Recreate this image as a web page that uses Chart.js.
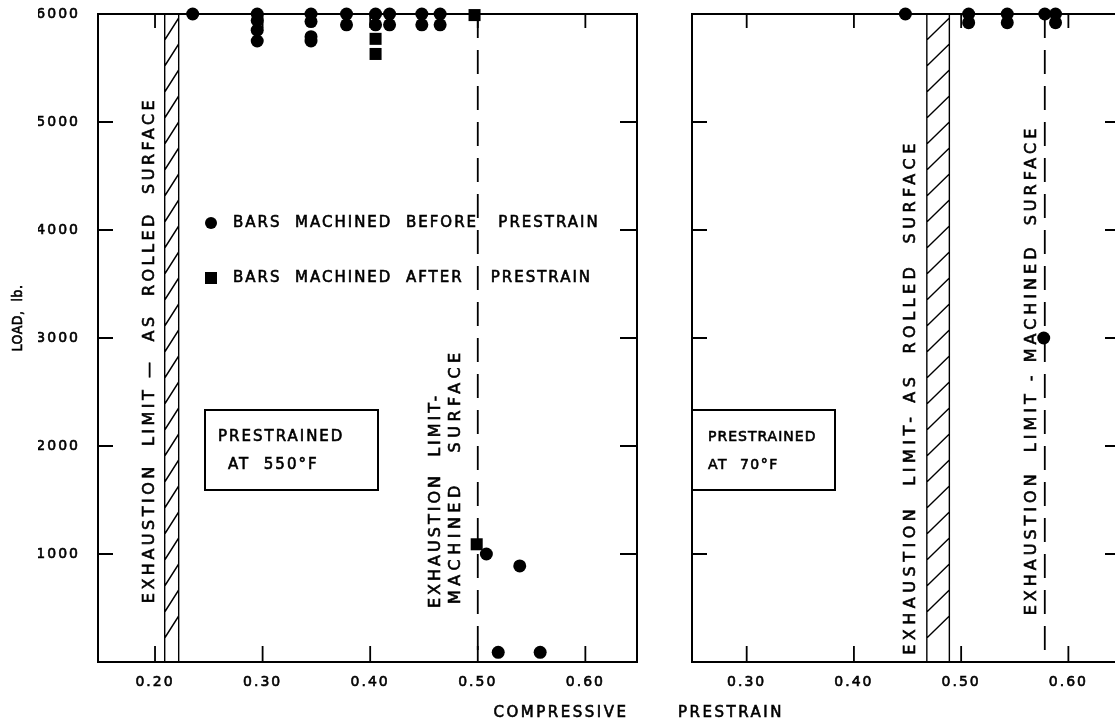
<!DOCTYPE html>
<html>
<head>
<meta charset="utf-8">
<script src="https://cdn.jsdelivr.net/npm/chart.js@4.4.1/dist/chart.umd.min.js"></script>
<style>
  html, body { margin: 0; padding: 0; background: #fff; overflow: hidden; width: 1115px; height: 725px; }
  canvas { position: absolute; left: 0; top: 0; }
</style>
</head>
<body>
<canvas id="hot" width="1115" height="725"></canvas>
<canvas id="cold" width="1140" height="725"></canvas>
<script>
const FONT = '"DejaVu Sans", sans-serif';

// prestrained at 550F, bars machined before prestrain
const hotBeforeX = [0.235, 0.295, 0.295, 0.295, 0.295, 0.345, 0.345, 0.345, 0.345, 0.378, 0.378,
  0.405, 0.405, 0.418, 0.418, 0.448, 0.448, 0.465, 0.465, 0.508, 0.539, 0.519, 0.558];
const hotBeforeY = [6000, 6000, 5940, 5850, 5750, 6000, 5930, 5790, 5750, 6000, 5900,
  6000, 5900, 6000, 5900, 6000, 5900, 6000, 5900, 1000, 890, 90, 90];
// prestrained at 550F, bars machined after prestrain
const hotAfterX = [0.405, 0.405, 0.497, 0.499];
const hotAfterY = [5770, 5630, 5990, 1090];
// prestrained at 70F
const coldX = [0.448, 0.507, 0.507, 0.543, 0.543, 0.578, 0.588, 0.588, 0.577];
const coldY = [6000, 6000, 5920, 6000, 5920, 6000, 6000, 5920, 3000];

const hotTicksX = [0.2, 0.3, 0.4, 0.5, 0.6];
const coldTicksX = [0.3, 0.4, 0.5, 0.6];
const loadTicks = [1000, 2000, 3000, 4000, 5000, 6000];

// exhaustion limits (compressive prestrain)
const hotRolledLimit = [0.209, 0.222];
const hotMachinedLimit = 0.50;
const coldRolledLimit = [0.468, 0.489];
const coldMachinedLimit = 0.578;

const toPoints = (xs, ys) => xs.map((x, i) => ({ x, y: ys[i] }));

function text(ctx, s, x, y, o) {
  ctx.save();
  ctx.translate(x, y);
  if (o.rot) ctx.rotate(-Math.PI / 2);
  ctx.font = (o.size || 15) + 'px ' + (o.family || FONT);
  ctx.letterSpacing = (o.sp == null ? 2.5 : o.sp) + 'px';
  ctx.textAlign = o.align || 'left';
  ctx.textBaseline = 'middle';
  ctx.fillStyle = '#000';
  ctx.strokeStyle = '#000';
  ctx.lineWidth = 0.6;
  ctx.fillText(s, 0, 0);
  ctx.strokeText(s, 0, 0);
  ctx.restore();
}

const panelPlugin = {
  id: 'panel',
  beforeDraw(chart) {
    chart.ctx.letterSpacing = '2px';
  },
  beforeDatasetsDraw(chart, args, opts) {
    const { ctx, chartArea: a, scales: { x, y } } = chart;
    ctx.save();
    ctx.strokeStyle = '#000';
    ctx.lineWidth = 2;
    ctx.strokeRect(a.left, a.top, a.right - a.left, a.bottom - a.top);

    // inward tick marks on all four sides
    ctx.lineWidth = 1.8;
    ctx.beginPath();
    opts.xTicks.forEach(v => {
      const px = x.getPixelForValue(v);
      ctx.moveTo(px, a.bottom); ctx.lineTo(px, a.bottom - 16);
      ctx.moveTo(px, a.top); ctx.lineTo(px, a.top + 14);
    });
    loadTicks.slice(0, -1).forEach(v => {
      const py = y.getPixelForValue(v);
      ctx.moveTo(a.left, py); ctx.lineTo(a.left + 15, py);
      ctx.moveTo(a.right, py); ctx.lineTo(a.right - 17, py);
    });
    ctx.stroke();

    // as-rolled limit: hatched band
    const x0 = x.getPixelForValue(opts.rolled[0]);
    const x1 = x.getPixelForValue(opts.rolled[1]);
    ctx.lineWidth = 1.4;
    ctx.beginPath();
    ctx.moveTo(x0, a.top); ctx.lineTo(x0, a.bottom);
    ctx.moveTo(x1, a.top); ctx.lineTo(x1, a.bottom);
    for (let yy = a.top + 4; yy + 22 < a.bottom; yy += 26) {
      ctx.moveTo(x0, yy + 22); ctx.lineTo(x1, yy);
    }
    ctx.stroke();

    // machined limit: dashed line
    const xd = x.getPixelForValue(opts.machined);
    ctx.lineWidth = 1.8;
    ctx.setLineDash([24, 12]);
    ctx.beginPath(); ctx.moveTo(xd, a.top); ctx.lineTo(xd, a.bottom); ctx.stroke();
    ctx.setLineDash([]);

    // boxed note
    const b = opts.box;
    ctx.lineWidth = 2;
    ctx.fillStyle = '#fff';
    ctx.fillRect(b.l, b.t, b.r - b.l, b.b - b.t);
    ctx.strokeRect(b.l, b.t, b.r - b.l, b.b - b.t);

    // legend markers
    ctx.fillStyle = '#000';
    (opts.markers || []).forEach(m => {
      ctx.beginPath();
      if (m.shape === 'circle') ctx.arc(m.x, m.y, 6, 0, Math.PI * 2);
      else ctx.rect(m.x - 6, m.y - 6, 12, 12);
      ctx.fill();
    });

    opts.texts.forEach(t => text(ctx, t.s, t.x, t.y, t));
    ctx.restore();
  }
};

function makePanel(id, cfg) {
  const tickFont = { family: FONT, size: 14 };
  return new Chart(document.getElementById(id), {
    type: 'scatter',
    data: { datasets: cfg.datasets },
    options: {
      responsive: false,
      animation: false,
      events: [],
      layout: { padding: cfg.padding },
      plugins: { legend: { display: false }, tooltip: { enabled: false }, panel: cfg.panel },
      scales: {
        x: {
          type: 'linear', min: cfg.xMin, max: cfg.xMax,
          grid: { display: false, drawTicks: false }, border: { display: false },
          afterBuildTicks: s => { s.ticks = cfg.xTicks.map(v => ({ value: v })); },
          afterFit: s => { s.height = 40; s.paddingLeft = 0; s.paddingRight = 0; },
          ticks: { padding: 12, color: '#000', font: tickFont, textStrokeColor: '#000', textStrokeWidth: 0.6,
                   callback: v => v.toFixed(2) }
        },
        y: {
          type: 'linear', min: 0, max: 6000,
          grid: { display: false, drawTicks: false }, border: { display: false },
          afterBuildTicks: s => { s.ticks = loadTicks.map(v => ({ value: v })); },
          afterFit: s => { s.width = cfg.yWidth; s.paddingTop = 0; s.paddingBottom = 0; },
          ticks: { display: cfg.showY, padding: 18, color: '#000', font: tickFont, textStrokeColor: '#000', textStrokeWidth: 0.6,
                   callback: v => String(v) }
        }
      }
    },
    plugins: [panelPlugin]
  });
}

const dot = { pointStyle: 'circle', pointRadius: 6.5, backgroundColor: '#000', borderWidth: 0, clip: false };
const sq = { pointStyle: 'rect', pointRadius: 8.5, backgroundColor: '#000', borderWidth: 0, clip: false };

makePanel('hot', {
  xMin: 0.147, xMax: 0.648, xTicks: hotTicksX, yWidth: 60, showY: true,
  padding: { left: 38, right: 478, top: 14, bottom: 23 },
  datasets: [
    Object.assign({ label: 'BARS MACHINED BEFORE PRESTRAIN', data: toPoints(hotBeforeX, hotBeforeY) }, dot),
    Object.assign({ label: 'BARS MACHINED AFTER PRESTRAIN', data: toPoints(hotAfterX, hotAfterY) }, sq)
  ],
  panel: {
    xTicks: hotTicksX, rolled: hotRolledLimit, machined: hotMachinedLimit,
    box: { l: 205, t: 410, r: 378, b: 490 },
    markers: [{ shape: 'circle', x: 211, y: 223 }, { shape: 'square', x: 211, y: 278 }],
    texts: [
      { s: 'LOAD,  lb.', x: 18, y: 318, size: 14, sp: 0.5, rot: true, align: 'center', family: '"DejaVu Sans Condensed", sans-serif' },
      { s: 'EXHAUSTION  LIMIT —  AS  ROLLED  SURFACE', x: 150, y: 350, size: 16, sp: 3.5, rot: true, align: 'center' },
      { s: 'BARS  MACHINED  BEFORE   PRESTRAIN', x: 233, y: 223, sp: 2 },
      { s: 'BARS  MACHINED  AFTER    PRESTRAIN', x: 233, y: 278, sp: 2 },
      { s: 'PRESTRAINED', x: 218, y: 437, sp: 2 },
      { s: 'AT  550°F', x: 228, y: 465, sp: 2 },
      { s: 'EXHAUSTION  LIMIT-', x: 436, y: 608, size: 16, sp: 3, rot: true },
      { s: 'MACHINED   SURFACE', x: 456, y: 604, size: 16, sp: 4.5, rot: true },
      { s: 'COMPRESSIVE', x: 561, y: 713, align: 'center' },
      { s: 'PRESTRAIN', x: 731, y: 713, align: 'center' }
    ]
  }
});

makePanel('cold', {
  xMin: 0.249, xMax: 0.65, xTicks: coldTicksX, yWidth: 0, showY: false,
  padding: { left: 692, right: 18, top: 14, bottom: 23 },
  datasets: [
    Object.assign({ label: 'PRESTRAINED AT 70°F', data: toPoints(coldX, coldY) }, dot)
  ],
  panel: {
    xTicks: coldTicksX, rolled: coldRolledLimit, machined: coldMachinedLimit,
    box: { l: 692, t: 410, r: 835, b: 490 },
    texts: [
      { s: 'PRESTRAINED', x: 708, y: 437, size: 14, sp: 1 },
      { s: 'AT  70°F', x: 708, y: 465, size: 14, sp: 1.5 },
      { s: 'EXHAUSTION  LIMIT- AS  ROLLED  SURFACE', x: 911, y: 397, size: 16, sp: 4.5, rot: true, align: 'center' },
      { s: 'EXHAUSTION  LIMIT - MACHINED  SURFACE', x: 1032, y: 370, size: 16, sp: 4, rot: true, align: 'center' }
    ]
  }
});
</script>
</body>
</html>
